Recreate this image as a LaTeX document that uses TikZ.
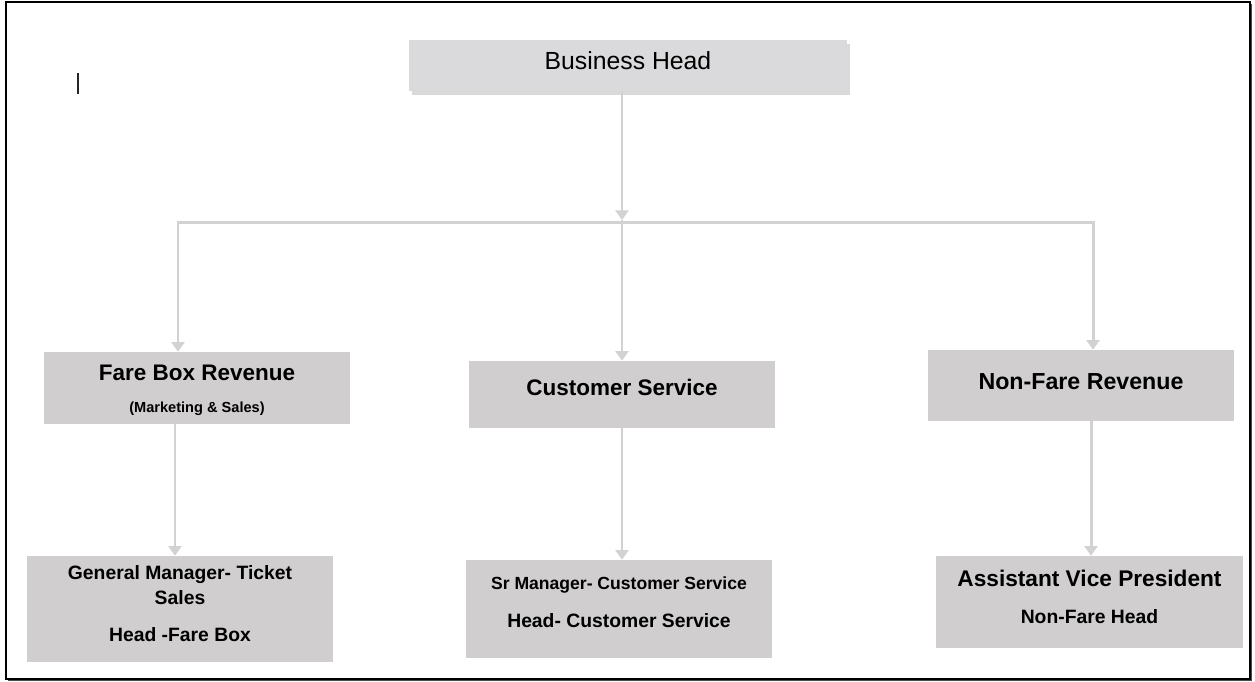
\documentclass[tikz,border=0pt]{standalone}
\usepackage{fontspec}
\setmainfont{Liberation Sans}
\usetikzlibrary{arrows.meta,positioning,calc,shadows}
\definecolor{boxgray}{HTML}{D0CECF}
\definecolor{headgray}{HTML}{DADADC}
\definecolor{linkgray}{HTML}{D2D2D2}
\tikzset{
    unit/.style={fill=boxgray, draw=none, minimum width=6.12cm, inner sep=0pt},
    headunit/.style={fill=headgray, draw=none, inner sep=0pt,
        drop shadow={shadow xshift=0.06cm, shadow yshift=-0.08cm, opacity=0.25, fill=black!60}},
    txt/.style={inner sep=0pt, anchor=center},
    link/.style={draw=linkgray, line width=1.7pt, -{Triangle[width=7.5pt,length=5.5pt]}}
}
\begin{document}
\begin{tikzpicture}[x=0.02cm, y=-0.02cm]
\useasboundingbox (0,0) rectangle (1255,681);
% page frame
\draw[black!70, line width=1.2pt] (1250.5,4) -- (1250.5,679.5) -- (8,679.5);
\draw[black, line width=0.6pt] (6,2) rectangle (1250,679);
\draw[black!85, line width=0.6pt] (78,73) -- (78,94);
% boxes
\node[headunit, minimum width=8.76cm, minimum height=1.02cm] (bh) at (628,65.5) {};
\node[unit, minimum height=1.44cm] (fbr) at (197,388) {};
\node[unit, minimum height=1.34cm] (cs) at (622,394.5) {};
\node[unit, minimum height=1.42cm] (nfr) at (1081,385.5) {};
\node[unit, minimum height=2.12cm] (gm) at (180,609) {};
\node[unit, minimum height=1.96cm] (sr) at (619,609) {};
\node[unit, minimum width=6.14cm, minimum height=1.84cm] (avp) at (1089.5,602) {};
% texts
\node[txt, font=\fontsize{14.1}{16}\selectfont] (bhT) at (628,61) {Business Head};
\node[txt, font=\fontsize{12.8}{15}\selectfont\bfseries] (fbrT) at (197,373) {Fare Box Revenue};
\node[txt, font=\fontsize{8.3}{10}\selectfont\bfseries] (fbrS) at (197,409) {(Marketing \& Sales)};
\node[txt, font=\fontsize{12.8}{15}\selectfont\bfseries] (csT) at (622,387) {Customer Service};
\node[txt, font=\fontsize{13.2}{15}\selectfont\bfseries] (nfrT) at (1081,382) {Non-Fare Revenue};
\node[txt, font=\fontsize{11}{13}\selectfont\bfseries] (gmT) at (180,575) {General Manager- Ticket};
\node[txt, font=\fontsize{11}{13}\selectfont\bfseries] (gmU) at (180,598) {Sales};
\node[txt, font=\fontsize{11}{13}\selectfont\bfseries] (gmS) at (180,635) {Head -Fare Box};
\node[txt, font=\fontsize{10}{12}\selectfont\bfseries] (srT) at (619,585) {Sr Manager- Customer Service};
\node[txt, font=\fontsize{11}{13}\selectfont\bfseries] (srS) at (619,621) {Head- Customer Service};
\node[txt, font=\fontsize{12.9}{15}\selectfont\bfseries] (avpT) at (1089.5,578) {Assistant Vice President};
\node[txt, font=\fontsize{11}{13}\selectfont\bfseries] (avpS) at (1089.5,617) {Non-Fare Head};
% connectors
\coordinate (busL) at (178,222);
\coordinate (busM) at (622,220);
\coordinate (busR) at (1093,222);
\coordinate (fbrOut) at ($(fbr.south)+(-22,0)$);
\coordinate (csOut) at (cs.south);
\coordinate (nfrOut) at ($(nfr.south)+(10,0)$);
\draw[link] (bh.south -| busM) -- (busM);
\draw[link, {Triangle[width=7.5pt,length=5.5pt]}-{Triangle[width=7.5pt,length=5.5pt]}]
    (busL |- fbr.north) |- (busR) -- (busR |- nfr.north);
\draw[link] (busM) -- (cs.north);
\draw[link] (fbrOut) -- (fbrOut |- gm.north);
\draw[link] (csOut) -- (csOut |- sr.north);
\draw[link] (nfrOut) -- (nfrOut |- avp.north);
\end{tikzpicture}
\end{document}
